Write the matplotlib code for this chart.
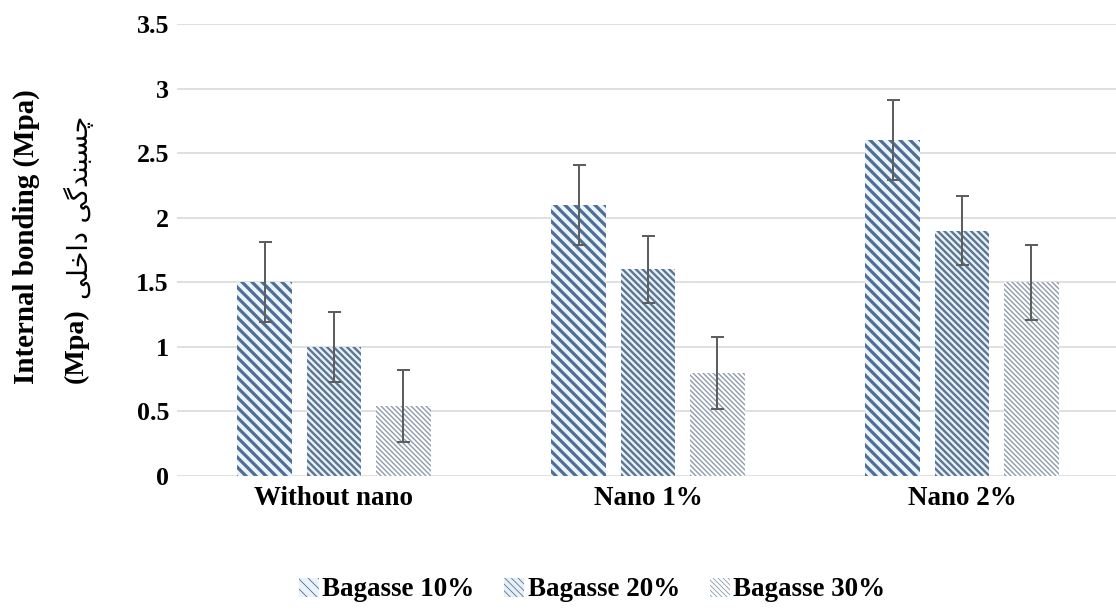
import matplotlib
matplotlib.use("Agg")
import matplotlib.pyplot as plt
import numpy as np

# Internal bonding strength by nano content and bagasse share
categories = ["Without nano", "Nano 1%", "Nano 2%"]
series_names = ["Bagasse 10%", "Bagasse 20%", "Bagasse 30%"]
bagasse_10 = [1.5, 2.1, 2.6]
bagasse_20 = [1.0, 1.6, 1.9]
bagasse_30 = [0.54, 0.8, 1.5]
err_10 = [0.31, 0.31, 0.31]
err_20 = [0.27, 0.26, 0.27]
err_30 = [0.28, 0.28, 0.29]
y_ticks = [0, 0.5, 1, 1.5, 2, 2.5, 3, 3.5]
y_tick_labels = ["0", "0.5", "1", "1.5", "2", "2.5", "3", "3.5"]

DPI = 60
W, H = 1116, 610
PT = 72 / DPI  # points per pixel


def px(v):
    return v * PT


serif = "Liberation Serif"

fig = plt.figure(figsize=(W / DPI, H / DPI), dpi=DPI)
ax = fig.add_axes([177 / W, 134 / H, 942 / W, 452 / H])

x = np.arange(len(categories))
offsets = [-0.22, 0.0, 0.22]
width = 0.175
values = [bagasse_10, bagasse_20, bagasse_30]
errors = [err_10, err_20, err_30]
hatches = ["\\\\", "\\\\\\", "\\\\\\\\"]
hatch_colors = ["#4d6e95", "#5a7591", "#8d9bad"]
face_colors = ["#eaf2fa", "#e8f0f7", "#ffffff"]
hatch_widths = [px(3.2), px(2.3), px(1.4)]

handles = []
for vals, errs, off, hat, hc, fc, hw, name in zip(
        values, errors, offsets, hatches, hatch_colors, face_colors,
        hatch_widths, series_names):
    with plt.rc_context({"hatch.linewidth": hw}):
        bars = ax.bar(x + off, vals, width=width, color=fc, edgecolor=hc,
                      hatch=hat, linewidth=0, label=name, zorder=2)
        for b in bars:
            if hasattr(b, "set_hatch_linewidth"):
                b.set_hatch_linewidth(hw)
    ax.errorbar(x + off, vals, yerr=errs, fmt="none", ecolor="#5e5e5e",
                elinewidth=px(2), capsize=px(6.5), capthick=px(2), zorder=3)
    handles.append(bars)

ax.set_xlim(-0.5, 2.5)
ax.set_ylim(0, 3.5)
ax.set_yticks(y_ticks)
ax.set_yticklabels(y_tick_labels)
ax.set_xticks(x)
ax.set_xticklabels(categories)
ax.grid(axis="y", color="#d9d9d9", linewidth=px(1.6), zorder=0)
ax.set_axisbelow(True)
for s in ax.spines.values():
    s.set_visible(False)
ax.tick_params(axis="both", length=0)
ax.tick_params(axis="y", pad=px(8))
ax.tick_params(axis="x", pad=px(10))
for lab in ax.get_yticklabels():
    lab.set_fontfamily(serif)
    lab.set_fontweight("bold")
    lab.set_fontsize(px(26))
for lab in ax.get_xticklabels():
    lab.set_fontfamily(serif)
    lab.set_fontweight("bold")
    lab.set_fontsize(px(27))

# Axis title: English line plus Persian line
fig.text(26 / W, 1 - 237 / H, "Internal bonding (Mpa)", rotation=90,
         ha="center", va="center", family=serif, fontweight="bold",
         fontsize=px(29))
fig.text(76 / W, 1 - 346 / H, "(Mpa)", rotation=90, ha="center",
         va="center", family=serif, fontweight="bold", fontsize=px(28))
# "چسبندگی داخلی" in shaped presentation forms, laid out left-to-right
persian = ("\uFBFD\uFEE0\uFEA7\uFE8D\uFEA9" + " " +
           "\uFBFD\uFB94\uFEAA\uFEE8\uFE92\uFEB4\uFB7C")
fig.text(79 / W, 1 - 207 / H, persian, rotation=90, ha="center",
         va="center", family=["DejaVu Sans"], fontsize=px(27))

leg = fig.legend(handles=handles, labels=series_names, loc="center",
                 bbox_to_anchor=(592 / W, 1 - 590 / H), ncol=3,
                 frameon=False, handlelength=0.75, handleheight=0.7,
                 handletextpad=0.12, columnspacing=1.1,
                 prop={"family": serif, "weight": "bold", "size": px(27)})

fig.savefig("out.png", dpi=DPI, facecolor="white")
